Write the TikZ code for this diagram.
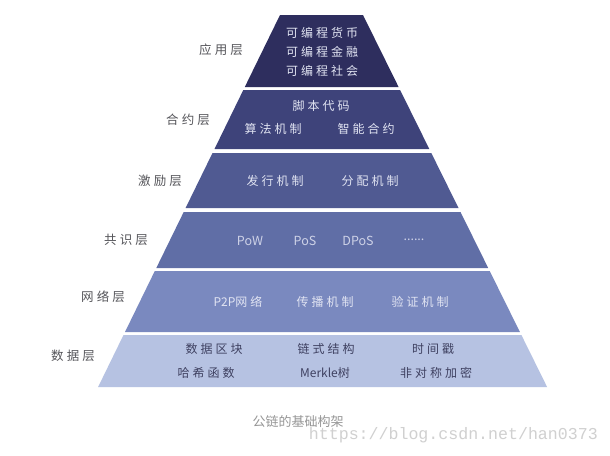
\documentclass[tikz,border=0pt]{standalone}
\usepackage{fontspec}
\setmainfont{Noto Sans CJK SC}
\newfontfamily\cjksp[LetterSpace=25]{Noto Sans CJK SC}
\newfontfamily\cjkplain{Noto Sans CJK SC}
\newfontfamily\wmfont{Liberation Mono}
\definecolor{bandA}{RGB}{46,46,94}
\definecolor{bandB}{RGB}{62,67,122}
\definecolor{bandC}{RGB}{80,90,146}
\definecolor{bandD}{RGB}{96,110,166}
\definecolor{bandE}{RGB}{122,137,191}
\definecolor{bandF}{RGB}{182,194,226}
\definecolor{labelgray}{RGB}{85,85,90}
\definecolor{lighttext}{RGB}{225,228,242}
\definecolor{darktext}{RGB}{62,64,96}
\definecolor{captiongray}{RGB}{150,150,150}
\definecolor{wmgray}{RGB}{208,208,208}
\begin{document}
\begin{tikzpicture}[x=1pt,y=-1pt,
  lbl/.style={font=\cjksp\fontsize{12.5}{13}\selectfont, text=labelgray, inner sep=0pt},
  intext/.style={font=\cjksp\fontsize{12}{13}\selectfont, text=lighttext, inner sep=0pt},
  darkin/.style={font=\cjksp\fontsize{12}{13}\selectfont, text=darktext, inner sep=0pt},
  latin/.style={font=\cjkplain\fontsize{12.5}{13}\selectfont, text=lighttext!85!bandD, inner sep=0pt}]
\useasboundingbox (0,0) rectangle (610,455);
\fill[white] (0,0) rectangle (610,455);
% bands
\fill[bandA] (280,15) -- (363,15) -- (398.6,87) -- (244.8,87) -- cycle;
\fill[bandB] (243.3,90) -- (400.1,90) -- (429.3,149) -- (214.5,149) -- cycle;
\fill[bandC] (212.5,153) -- (431.3,153) -- (458.5,208) -- (185.6,208) -- cycle;
\fill[bandD] (183.7,212) -- (460.5,212) -- (488.2,268) -- (156.3,268) -- cycle;
\fill[bandE] (154.8,271) -- (489.7,271) -- (519.9,332) -- (125.0,332) -- cycle;
\fill[bandF] (123.5,335) -- (521.4,335) -- (547.1,387) -- (98.1,387) -- cycle;
% left labels
\node[lbl] (l1) at (221,50) {应用层};
\node[lbl] (l2) at (188,120) {合约层};
\node[lbl] (l3) at (160,181) {激励层};
\node[lbl] (l4) at (126,240) {共识层};
\node[lbl] (l5) at (103,297) {网络层};
\node[lbl] (l6) at (73,356) {数据层};
% band 1
\node[intext] (a1) at (322,33) {可编程货币};
\node[intext] (a2) at (322,52) {可编程金融};
\node[intext] (a3) at (322,71) {可编程社会};
% band 2
\node[intext] (b1) at (321,106) {脚本代码};
\node[intext] (b2) at (273,129) {算法机制};
\node[intext] (b3) at (366,129) {智能合约};
% band 3
\node[intext] (c1) at (275,181) {发行机制};
\node[intext] (c2) at (370,181) {分配机制};
% band 4
\node[latin] (d1) at (250,241) {PoW};
\node[latin] (d2) at (305,241) {PoS};
\node[latin] (d3) at (358,241) {DPoS};
\node[latin] (d4) at (414,240) {......};
% band 5
\node[intext] (e1) at (238,302) {{\cjkplain P2P}网络};
\node[intext] (e2) at (325,302) {传播机制};
\node[intext] (e3) at (420,302) {验证机制};
% band 6
\node[darkin] (f1) at (214,349) {数据区块};
\node[darkin] (f2) at (326,349) {链式结构};
\node[darkin] (f3) at (433,349) {时间戳};
\node[darkin] (f4) at (206,373) {哈希函数};
\node[darkin] (f5) at (325,373) {{\cjkplain Merkle}树};
\node[darkin] (f6) at (436,373) {非对称加密};
% caption and watermark
\node[font=\fontsize{13}{14}\selectfont, text=captiongray, inner sep=0pt] (cap) at (298,422) {公链的基础构架};
\node[font=\wmfont\fontsize{16.6}{17}\selectfont, text=wmgray, inner sep=0pt, anchor=base east] (wm) at (598,439) {https://blog.csdn.net/han0373};
\end{tikzpicture}
\end{document}
